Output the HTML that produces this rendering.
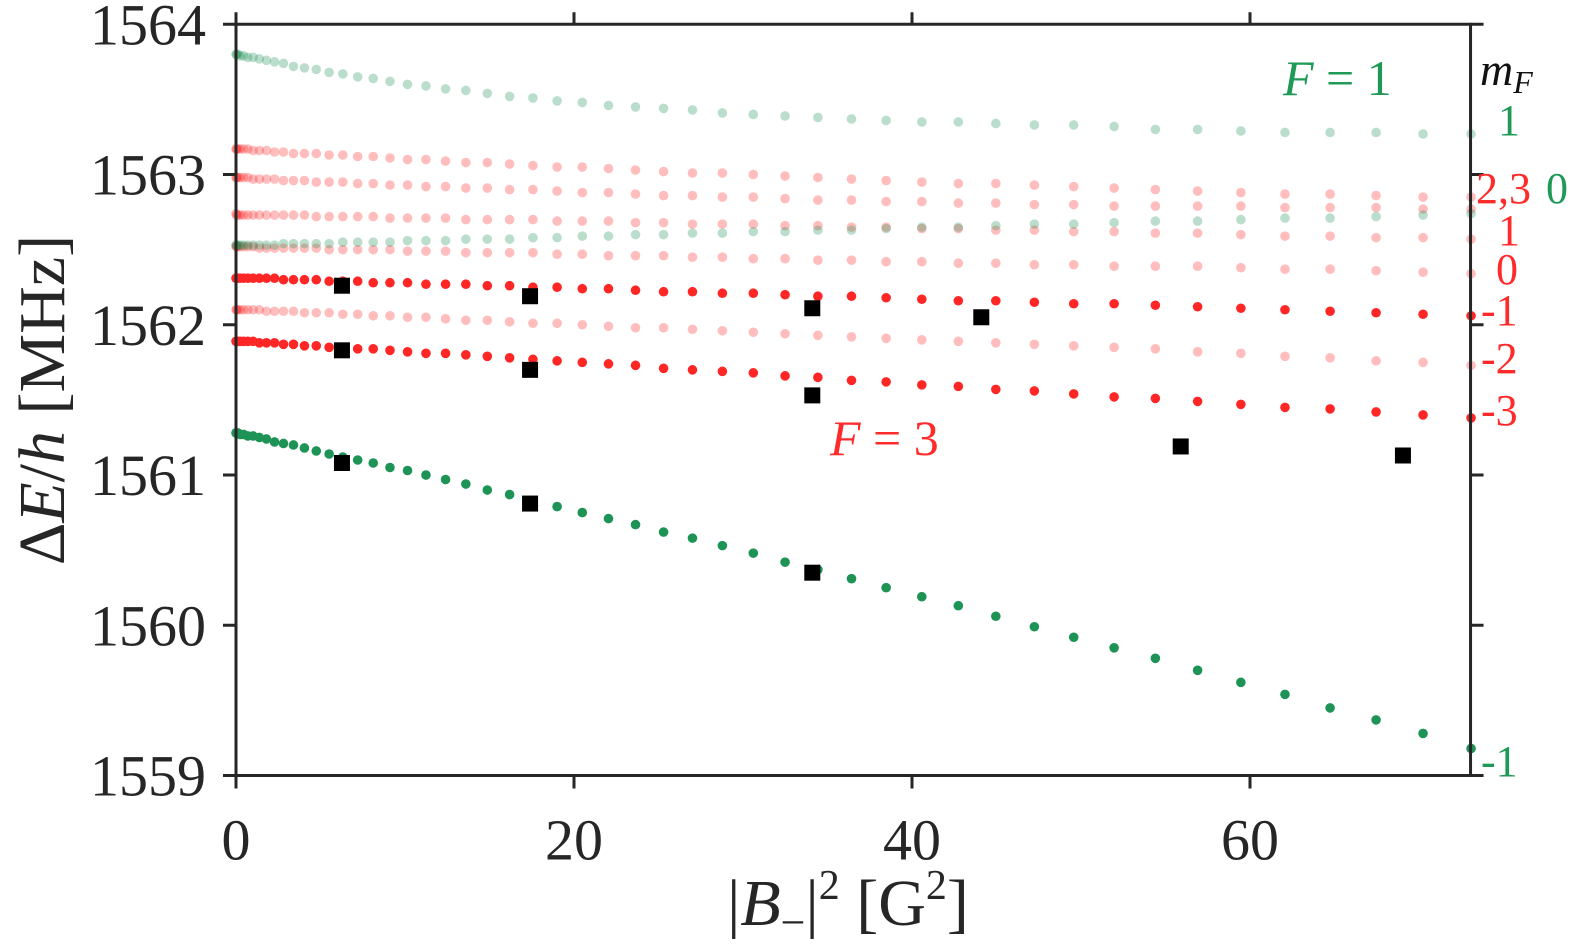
<!DOCTYPE html>
<html><head><meta charset="utf-8"><style>
html,body{margin:0;padding:0;background:#fff;}
svg{display:block;}
text{font-family:"Liberation Serif",serif;}
</style></head><body>
<svg id="chart" width="1578" height="948" viewBox="0 0 1578 948" xmlns="http://www.w3.org/2000/svg">
<g id="marks"></g>
<g id="axes"></g>
<g id="labels">
<text transform="translate(64,400) rotate(-90)" text-anchor="middle" font-size="66" fill="#262626">Δ<tspan font-style="italic">E</tspan>/<tspan font-style="italic">h</tspan> [MHz]</text>
<text x="848" y="925" text-anchor="middle" font-size="66" fill="#262626">|<tspan font-style="italic">B</tspan><tspan font-size="44" dy="12">−</tspan><tspan dy="-12">|</tspan><tspan font-size="42" dy="-26">2</tspan><tspan dy="26"> [G</tspan><tspan font-size="42" dy="-26">2</tspan><tspan dy="26">]</tspan></text>
<text x="1283" y="95" font-size="50" fill="#1e9a56"><tspan font-style="italic">F</tspan> = 1</text>
<text x="830" y="455" font-size="50" fill="#ff2a2a"><tspan font-style="italic">F</tspan> = 3</text>
<text x="1480" y="85" font-size="46" font-style="italic" fill="#111">m<tspan font-size="32" dy="8">F</tspan></text>
<text x="1498" y="135" font-size="44" fill="#1e9a56">1</text>
<text x="1476" y="203" font-size="44" fill="#ff2a2a">2,3</text>
<text x="1546" y="203" font-size="44" fill="#1e9a56">0</text>
<text x="1498" y="245" font-size="44" fill="#ff2a2a">1</text>
<text x="1496" y="284" font-size="44" fill="#ff2a2a">0</text>
<text x="1481" y="325" font-size="44" fill="#ff2a2a">-1</text>
<text x="1481" y="373" font-size="44" fill="#ff2a2a">-2</text>
<text x="1481" y="425" font-size="44" fill="#ff2a2a">-3</text>
<text x="1481" y="776" font-size="44" fill="#1e9a56">-1</text>
</g>
</svg>
<script>
const xs = [0,0.03,0.11,0.25,0.45,0.70,1.01,1.38,1.80,2.28,2.81,3.40,4.05,4.75,5.51,6.32,7.20,8.12,9.11,10.15,11.24,12.40,13.60,14.87,16.19,17.57,19.00,20.49,22.04,23.64,25.30,27.01,28.78,30.61,32.49,34.43,36.42,38.47,40.58,42.74,44.96,47.24,49.57,51.96,54.40,56.90,59.46,62.07,64.74,67.46,70.24,73.08];
const f1m1 = [1563.80,1563.80,1563.80,1563.79,1563.79,1563.78,1563.78,1563.77,1563.76,1563.75,1563.74,1563.72,1563.71,1563.70,1563.68,1563.67,1563.65,1563.64,1563.62,1563.60,1563.59,1563.57,1563.56,1563.54,1563.52,1563.51,1563.49,1563.48,1563.46,1563.45,1563.44,1563.43,1563.41,1563.40,1563.39,1563.38,1563.37,1563.36,1563.35,1563.35,1563.34,1563.33,1563.33,1563.32,1563.30,1563.30,1563.29,1563.28,1563.28,1563.28,1563.27,1563.27];
const f1m0 = [1562.53,1562.53,1562.53,1562.53,1562.53,1562.53,1562.53,1562.53,1562.53,1562.53,1562.54,1562.54,1562.54,1562.54,1562.54,1562.55,1562.55,1562.55,1562.55,1562.56,1562.56,1562.56,1562.57,1562.57,1562.57,1562.58,1562.58,1562.59,1562.59,1562.60,1562.60,1562.61,1562.61,1562.62,1562.62,1562.63,1562.63,1562.64,1562.65,1562.65,1562.66,1562.67,1562.67,1562.68,1562.69,1562.69,1562.70,1562.71,1562.71,1562.72,1562.73,1562.74];
const f1mm1 = [1561.28,1561.28,1561.28,1561.27,1561.27,1561.26,1561.26,1561.25,1561.24,1561.22,1561.21,1561.20,1561.18,1561.16,1561.14,1561.12,1561.10,1561.08,1561.05,1561.03,1561.00,1560.97,1560.94,1560.90,1560.87,1560.83,1560.79,1560.75,1560.71,1560.67,1560.62,1560.58,1560.53,1560.48,1560.42,1560.37,1560.31,1560.25,1560.19,1560.13,1560.06,1559.99,1559.92,1559.85,1559.78,1559.70,1559.62,1559.54,1559.45,1559.37,1559.28,1559.18];
const f3m3 = [1563.17,1563.17,1563.17,1563.17,1563.17,1563.17,1563.16,1563.16,1563.16,1563.15,1563.15,1563.14,1563.14,1563.14,1563.13,1563.13,1563.12,1563.12,1563.11,1563.10,1563.10,1563.09,1563.08,1563.08,1563.07,1563.06,1563.05,1563.05,1563.04,1563.03,1563.02,1563.01,1563.01,1563.00,1562.99,1562.98,1562.97,1562.96,1562.95,1562.94,1562.94,1562.93,1562.92,1562.91,1562.90,1562.89,1562.88,1562.87,1562.87,1562.86,1562.85,1562.85];
const f3m2 = [1562.98,1562.98,1562.98,1562.98,1562.98,1562.98,1562.97,1562.97,1562.97,1562.97,1562.96,1562.96,1562.96,1562.95,1562.95,1562.95,1562.94,1562.94,1562.93,1562.93,1562.92,1562.92,1562.91,1562.91,1562.90,1562.90,1562.89,1562.88,1562.88,1562.87,1562.86,1562.86,1562.85,1562.85,1562.84,1562.83,1562.83,1562.82,1562.82,1562.81,1562.81,1562.80,1562.80,1562.79,1562.79,1562.79,1562.79,1562.78,1562.78,1562.78,1562.77,1562.77];
const f3m1 = [1562.74,1562.73,1562.73,1562.73,1562.73,1562.73,1562.73,1562.73,1562.73,1562.73,1562.73,1562.73,1562.73,1562.72,1562.72,1562.72,1562.72,1562.72,1562.71,1562.71,1562.71,1562.71,1562.70,1562.70,1562.70,1562.70,1562.69,1562.69,1562.69,1562.68,1562.68,1562.67,1562.67,1562.67,1562.66,1562.66,1562.65,1562.65,1562.64,1562.64,1562.63,1562.63,1562.62,1562.62,1562.61,1562.61,1562.60,1562.59,1562.59,1562.58,1562.58,1562.57];
const f3m0 = [1562.52,1562.52,1562.52,1562.52,1562.52,1562.52,1562.52,1562.51,1562.51,1562.51,1562.51,1562.51,1562.51,1562.51,1562.50,1562.50,1562.50,1562.50,1562.50,1562.49,1562.49,1562.49,1562.48,1562.48,1562.48,1562.48,1562.47,1562.47,1562.46,1562.46,1562.46,1562.45,1562.45,1562.44,1562.44,1562.43,1562.43,1562.42,1562.42,1562.41,1562.41,1562.40,1562.40,1562.39,1562.39,1562.39,1562.38,1562.37,1562.37,1562.36,1562.35,1562.34];
const f3mm1 = [1562.31,1562.31,1562.31,1562.31,1562.31,1562.31,1562.31,1562.31,1562.31,1562.31,1562.30,1562.30,1562.30,1562.30,1562.29,1562.29,1562.29,1562.28,1562.28,1562.28,1562.27,1562.27,1562.27,1562.26,1562.26,1562.25,1562.25,1562.24,1562.24,1562.23,1562.22,1562.22,1562.21,1562.21,1562.20,1562.19,1562.19,1562.18,1562.17,1562.16,1562.16,1562.15,1562.14,1562.14,1562.13,1562.12,1562.11,1562.10,1562.09,1562.08,1562.07,1562.06];
const f3mm2 = [1562.10,1562.10,1562.10,1562.10,1562.10,1562.10,1562.10,1562.10,1562.09,1562.09,1562.09,1562.09,1562.08,1562.08,1562.08,1562.07,1562.07,1562.06,1562.06,1562.05,1562.05,1562.04,1562.03,1562.03,1562.02,1562.01,1562.01,1562.00,1561.99,1561.98,1561.98,1561.97,1561.96,1561.95,1561.94,1561.93,1561.92,1561.91,1561.90,1561.89,1561.88,1561.87,1561.86,1561.85,1561.84,1561.82,1561.81,1561.79,1561.78,1561.76,1561.75,1561.73];
const f3mm3 = [1561.89,1561.89,1561.89,1561.89,1561.89,1561.89,1561.89,1561.88,1561.88,1561.88,1561.87,1561.87,1561.86,1561.86,1561.85,1561.85,1561.84,1561.84,1561.83,1561.82,1561.81,1561.81,1561.80,1561.79,1561.78,1561.77,1561.76,1561.75,1561.74,1561.73,1561.71,1561.70,1561.69,1561.68,1561.66,1561.65,1561.63,1561.62,1561.60,1561.59,1561.57,1561.56,1561.54,1561.52,1561.51,1561.49,1561.47,1561.45,1561.44,1561.42,1561.40,1561.38];
const expX = [6.27,6.27,6.27,17.4,17.4,17.4,34.1,34.1,34.1,44.1,55.9,69.05];
const expY = [1562.26,1561.83,1561.08,1562.19,1561.70,1560.81,1562.11,1561.53,1560.35,1562.05,1561.19,1561.13];
const xTicks = [0,20,40,60];
const yTicks = [1559,1560,1561,1562,1563,1564];

const X0=236, XS=16.9, Y0=24.3, YS=150.24, XMAX=73.05, YMIN=1559, YMAX=1564;
function sx(v){return X0+v*XS;}
function sy(v){return Y0+(YMAX-v)*YS;}
const NS="http://www.w3.org/2000/svg";
const marks=document.getElementById('marks');
const axes=document.getElementById('axes');
function mk(tag,attrs,parent){const e=document.createElementNS(NS,tag);for(const k in attrs)e.setAttribute(k,attrs[k]);parent.appendChild(e);return e;}

const GREEN="#1e9356", RED="#ff2626";
const series=[
 {vals:f3m3,c:RED,o:0.3,n:'f3-mf3'},
 {vals:f3m2,c:RED,o:0.3,n:'f3-mf2'},
 {vals:f3m1,c:RED,o:0.3,n:'f3-mf1'},
 {vals:f3m0,c:RED,o:0.3,n:'f3-mf0'},
 {vals:f3mm2,c:RED,o:0.3,n:'f3-mfm2'},
 {vals:f1m1,c:GREEN,o:0.3,n:'f1-mf1'},
 {vals:f1m0,c:GREEN,o:0.3,n:'f1-mf0'},
 {vals:f3mm1,c:RED,o:1,n:'f3-mfm1'},
 {vals:f3mm3,c:RED,o:1,n:'f3-mfm3'},
 {vals:f1mm1,c:GREEN,o:1,n:'f1-mfm1'}
];
series.forEach(s=>{
 const g=mk('g',{},marks);
 
 
 s.vals.forEach((v,i)=>{
  const c=mk('circle',{cx:sx(xs[i]).toFixed(2),cy:sy(v).toFixed(2),r:4.8,fill:s.c,'fill-opacity':s.o},g);
  
  
 });
});
const eg=mk('g',{},marks);


expX.forEach((x,i)=>{
 const r=mk('rect',{x:(sx(x)-8).toFixed(2),y:(sy(expY[i])-8).toFixed(2),width:16,height:16,fill:'#000'},eg);
 
 
});

const L=sx(0),R=sx(XMAX),T=sy(YMAX),B=sy(YMIN);
const AX="#262626";
const fr=mk('path',{d:`M${L},${T}H${R}V${B}H${L}Z`,fill:'none',stroke:AX,'stroke-width':3},axes);


xTicks.forEach(t=>{
 const x=sx(t);
 const tk=mk('path',{d:`M${x},${B}V${B+13}M${x},${T}V${T-12}`,stroke:AX,'stroke-width':3},axes);
 
 
 const lb=mk('text',{x:x,y:B+84,'text-anchor':'middle','font-size':58,fill:AX},axes);
 lb.textContent=t;
 
 
});
yTicks.forEach(t=>{
 const y=sy(t);
 const tk=mk('path',{d:`M${L},${y}H${L-13}M${R},${y}H${R+13}`,stroke:AX,'stroke-width':3},axes);
 
 
 const lb=mk('text',{x:L-30,y:y+20,'text-anchor':'end','font-size':58,fill:AX},axes);
 lb.textContent=t;
 
 
});
</script>
</body></html>
